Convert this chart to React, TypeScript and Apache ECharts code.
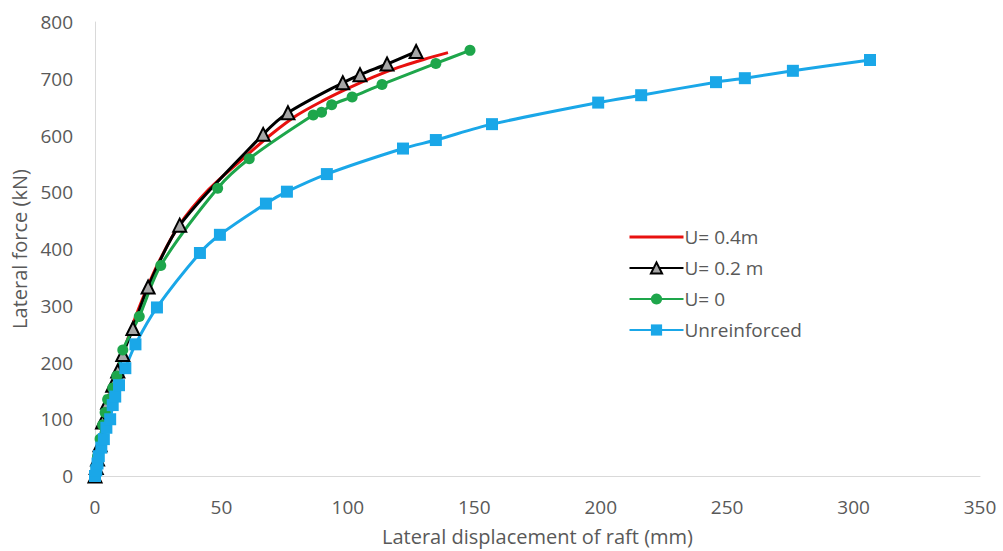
import React, { useEffect, useRef } from "react";
import * as echarts from "echarts";

const xTicks = { min: 0, max: 350, interval: 50 };
const yTicks = { min: 0, max: 800, interval: 100 };

const seriesNames = ["U= 0.4m", "U= 0.2 m", "U= 0", "Unreinforced"];

const u04: number[][] = [
  [0, 0], [1, 25], [3, 75], [6, 130], [10, 200], [15, 268], [20, 325], [25, 375],
  [33, 440], [45, 505], [60, 565], [70, 603], [80, 636], [90, 661], [100, 683],
  [110, 703], [120, 720], [130, 734], [139.6, 746],
];

const u02: number[][] = [
  [0, 0], [0.5, 15], [1, 30], [2, 55], [3, 95], [5, 130], [7, 160], [9, 185],
  [11, 214], [15, 260], [21, 333], [33.5, 442], [66.5, 602], [76.3, 640],
  [98, 693], [104.8, 707], [115.5, 726], [127, 748],
];

const u0: number[][] = [
  [0, 0], [0.5, 15], [1, 35], [2, 65], [3, 90], [4, 112], [5, 135], [7, 155],
  [8.6, 176], [11, 222], [17.5, 281], [26, 371], [48.5, 507], [61, 559],
  [86.3, 636], [89.6, 641], [93.6, 654], [101.7, 668], [113.5, 690],
  [134.8, 727], [148.3, 750],
];

const unreinforced: number[][] = [
  [0, 0], [0.5, 10], [1, 22], [1.5, 35], [2.5, 50], [3.5, 65], [4.5, 85],
  [6, 100], [7, 125], [8, 140], [9.5, 160], [12, 190], [16, 232], [24.5, 297],
  [41.5, 393], [49.4, 425], [67.6, 480], [75.9, 501], [91.7, 532], [121.8, 577],
  [134.8, 592], [157, 620], [199, 658], [216, 671], [245.6, 694], [257, 701],
  [276, 714], [306.5, 733],
];

const FONT = "Open Sans";
const LABEL = "#595959";

export default function App() {
  const ref = useRef<HTMLDivElement>(null);
  useEffect(() => {
    if (!ref.current) return;
    const chart = echarts.init(ref.current, undefined, { renderer: "svg" });
    chart.setOption({
      animation: false,
      backgroundColor: "#ffffff",
      textStyle: { fontFamily: FONT },
      grid: { left: 95, right: 23, top: 22, bottom: 74, containLabel: false },
      legend: {
        orient: "vertical",
        left: 623,
        top: 221,
        itemWidth: 54,
        itemHeight: 14,
        itemGap: 9,
        data: [
          { name: seriesNames[0], itemStyle: { opacity: 0 }, lineStyle: { color: "#E8110F", width: 3 } },
          seriesNames[1],
          seriesNames[2],
          seriesNames[3],
        ],
        textStyle: { fontFamily: FONT, fontSize: 19, lineHeight: 22, color: LABEL, padding: [0, 0, 0, -4] },
      },
      xAxis: {
        type: "value",
        min: xTicks.min,
        max: xTicks.max,
        interval: xTicks.interval,
        name: "Lateral displacement of raft (mm)",
        nameLocation: "middle",
        nameGap: 50,
        nameTextStyle: { fontFamily: FONT, fontSize: 20, color: LABEL },
        axisLine: { show: true, lineStyle: { color: "#D9D9D9", width: 1 } },
        axisTick: { show: false },
        splitLine: { show: false },
        axisLabel: { fontFamily: FONT, fontSize: 19, color: LABEL, margin: 21 },
      },
      yAxis: {
        type: "value",
        min: yTicks.min,
        max: yTicks.max,
        interval: yTicks.interval,
        name: "Lateral force (kN)",
        nameLocation: "middle",
        nameGap: 62,
        nameTextStyle: { fontFamily: FONT, fontSize: 20, color: LABEL },
        axisLine: { show: true, lineStyle: { color: "#D9D9D9", width: 1 } },
        axisTick: { show: false },
        splitLine: { show: false },
        axisLabel: { fontFamily: FONT, fontSize: 19, color: LABEL, margin: 22 },
      },
      series: [
        {
          name: seriesNames[0],
          type: "line",
          data: u04,
          smooth: 0.3,
          symbol: "none",
          showSymbol: false,
          lineStyle: { color: "#E8110F", width: 3 },
          itemStyle: { color: "#E8110F" },
        },
        {
          name: seriesNames[1],
          type: "line",
          data: u02,
          smooth: 0.3,
          symbol: "triangle",
          symbolSize: 13,
          lineStyle: { color: "#000000", width: 3 },
          itemStyle: { color: "#A6A6A6", borderColor: "#000000", borderWidth: 2 },
        },
        {
          name: seriesNames[2],
          type: "line",
          data: u0,
          smooth: 0.3,
          symbol: "circle",
          symbolSize: 11,
          lineStyle: { color: "#1EA64B", width: 3 },
          itemStyle: { color: "#1EA64B" },
        },
        {
          name: seriesNames[3],
          type: "line",
          data: unreinforced,
          smooth: 0.3,
          symbol: "rect",
          symbolSize: 12,
          lineStyle: { color: "#1AA7E8", width: 3 },
          itemStyle: { color: "#1AA7E8" },
        },
      ],
    });
    return () => chart.dispose();
  }, []);
  return <div ref={ref} style={{ width: 1003, height: 551, position: "absolute", left: 0, top: 0 }} />;
}
